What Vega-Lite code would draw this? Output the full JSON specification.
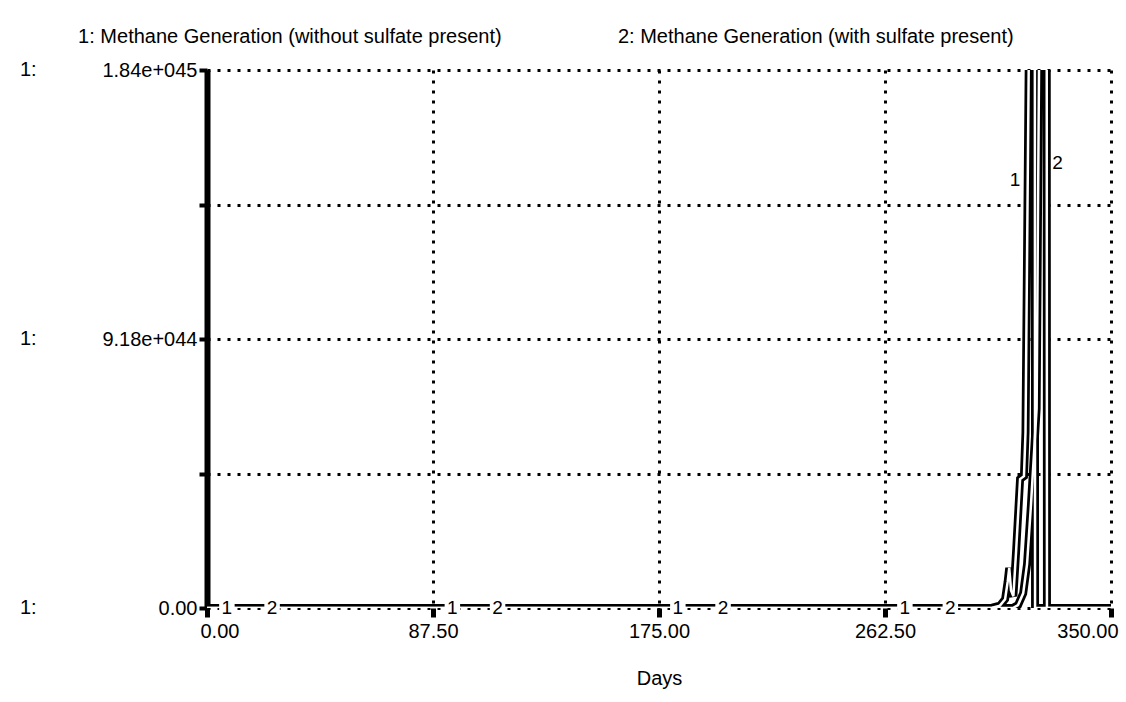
{
  "$schema": "https://vega.github.io/schema/vega-lite/v6.json",
  "width": 904,
  "height": 538,
  "autosize": {"type": "none"},
  "padding": {"left": 207, "top": 70, "right": 15, "bottom": 94},
  "background": "white",
  "config": {
    "view": {"stroke": null},
    "font": "Liberation Sans",
    "axis": {"labelFont": "Liberation Sans", "titleFont": "Liberation Sans"}
  },
  "datasets": {
    "series": [
      {"day": 0, "value": 0, "series": "1"},
      {"day": 300, "value": 0, "series": "1"},
      {"day": 304, "value": 1e42, "series": "1"},
      {"day": 307, "value": 8e42, "series": "1"},
      {"day": 309, "value": 3e43, "series": "1"},
      {"day": 310, "value": 9e43, "series": "1"},
      {"day": 310.6, "value": 1.37e44, "series": "1"},
      {"day": 311.3, "value": 6e43, "series": "1"},
      {"day": 312.2, "value": 4e43, "series": "1"},
      {"day": 313.3, "value": 2e44, "series": "1"},
      {"day": 314.8, "value": 4.4e44, "series": "1"},
      {"day": 316.3, "value": 4.5e44, "series": "1"},
      {"day": 316.9, "value": 6e44, "series": "1"},
      {"day": 318.6, "value": 2.3e45, "series": "1"},
      {"day": 320.5, "value": 2.3e45, "series": "1"},
      {"day": 320.6, "value": 0, "series": "1"},
      {"day": 350, "value": 0, "series": "1"},
      {"day": 0, "value": 0, "series": "2"},
      {"day": 312, "value": 0, "series": "2"},
      {"day": 314, "value": 1e43, "series": "2"},
      {"day": 316, "value": 5e43, "series": "2"},
      {"day": 317.5, "value": 1.5e44, "series": "2"},
      {"day": 319, "value": 3.5e44, "series": "2"},
      {"day": 321.2, "value": 6.8e44, "series": "2"},
      {"day": 322.5, "value": 2.3e45, "series": "2"},
      {"day": 325.1, "value": 2.3e45, "series": "2"},
      {"day": 325.2, "value": 0, "series": "2"},
      {"day": 350, "value": 0, "series": "2"}
    ],
    "lineLabels": [
      {"day": 7.7, "value": 0, "label": "1"},
      {"day": 25.2, "value": 0, "label": "2"},
      {"day": 95, "value": 0, "label": "1"},
      {"day": 112.5, "value": 0, "label": "2"},
      {"day": 182.3, "value": 0, "label": "1"},
      {"day": 199.8, "value": 0, "label": "2"},
      {"day": 270.2, "value": 0, "label": "1"},
      {"day": 287.8, "value": 0, "label": "2"}
    ],
    "peakLabels": [
      {"day": 312.8, "value": 1.46e45, "label": "1"},
      {"day": 329.3, "value": 1.52e45, "label": "2"}
    ],
    "notes": [
      {"day": -49.9, "value": 1.949e45, "text": "1: Methane Generation (without sulfate present)"},
      {"day": 159.1, "value": 1.949e45, "text": "2: Methane Generation (with sulfate present)"},
      {"day": -72.4, "value": 1.836e45, "text": "1:"},
      {"day": -72.4, "value": 9.18e44, "text": "1:"},
      {"day": -72.4, "value": 0, "text": "1:"}
    ]
  },
  "layer": [
    {
      "data": {"name": "series"},
      "mark": {"type": "line", "clip": true, "strokeWidth": 8, "color": "black"},
      "encoding": {
        "x": {
          "field": "day", "type": "quantitative",
          "scale": {"domain": [0, 350], "nice": false, "zero": false},
          "axis": {
            "values": [0, 87.5, 175, 262.5, 350],
            "format": ".2f",
            "title": "Days",
            "titleFontSize": 20,
            "titleFontWeight": "normal",
            "titleColor": "black",
            "titlePadding": 27,
            "labelFontSize": 20,
            "labelColor": "black",
            "labelPadding": 4,
            "labelFlush": true,
            "labelFlushOffset": 7,
            "domain": false,
            "ticks": true,
            "tickColor": "black",
            "tickSize": 9,
            "tickWidth": 5,
            "grid": true,
            "gridColor": "black",
            "gridDash": [3, 7],
            "gridWidth": 3
          }
        },
        "y": {
          "field": "value", "type": "quantitative",
          "scale": {"domain": [0, 1.836e45], "nice": false, "zero": true},
          "axis": {
            "values": [0, 4.59e44, 9.18e44, 1.377e45, 1.836e45],
            "labelExpr": "datum.value > 1.8e45 ? '1.84e+045' : (datum.value > 9e44 && datum.value < 9.3e44) ? '9.18e+044' : datum.value == 0 ? '0.00' : ''",
            "title": null,
            "labelFontSize": 20,
            "labelColor": "black",
            "labelPadding": 2,
            "labelFlush": false,
            "domain": true,
            "domainColor": "black",
            "domainWidth": 6,
            "ticks": true,
            "tickColor": "black",
            "tickSize": 8,
            "tickWidth": 4,
            "grid": true,
            "gridColor": "black",
            "gridDash": [3, 7],
            "gridWidth": 3
          }
        },
        "detail": {"field": "series"}
      }
    },
    {
      "data": {"name": "series"},
      "mark": {"type": "line", "clip": true, "strokeWidth": 2.5, "color": "white"},
      "encoding": {
        "x": {"field": "day", "type": "quantitative"},
        "y": {"field": "value", "type": "quantitative"},
        "detail": {"field": "series"}
      }
    },
    {
      "data": {"name": "lineLabels"},
      "mark": {"type": "point", "shape": "square", "filled": true, "color": "white", "size": 240, "opacity": 1},
      "encoding": {
        "x": {"field": "day", "type": "quantitative"},
        "y": {"field": "value", "type": "quantitative"}
      }
    },
    {
      "data": {"name": "lineLabels"},
      "mark": {"type": "text", "fontSize": 19, "color": "black", "baseline": "middle", "align": "center"},
      "encoding": {
        "x": {"field": "day", "type": "quantitative"},
        "y": {"field": "value", "type": "quantitative"},
        "text": {"field": "label"}
      }
    },
    {
      "data": {"name": "peakLabels"},
      "mark": {"type": "text", "fontSize": 19, "color": "black", "baseline": "middle", "align": "center"},
      "encoding": {
        "x": {"field": "day", "type": "quantitative"},
        "y": {"field": "value", "type": "quantitative"},
        "text": {"field": "label"}
      }
    },
    {
      "data": {"name": "notes"},
      "mark": {"type": "text", "fontSize": 20, "color": "black", "baseline": "middle", "align": "left"},
      "encoding": {
        "x": {"field": "day", "type": "quantitative"},
        "y": {"field": "value", "type": "quantitative"},
        "text": {"field": "text"}
      }
    }
  ]
}
